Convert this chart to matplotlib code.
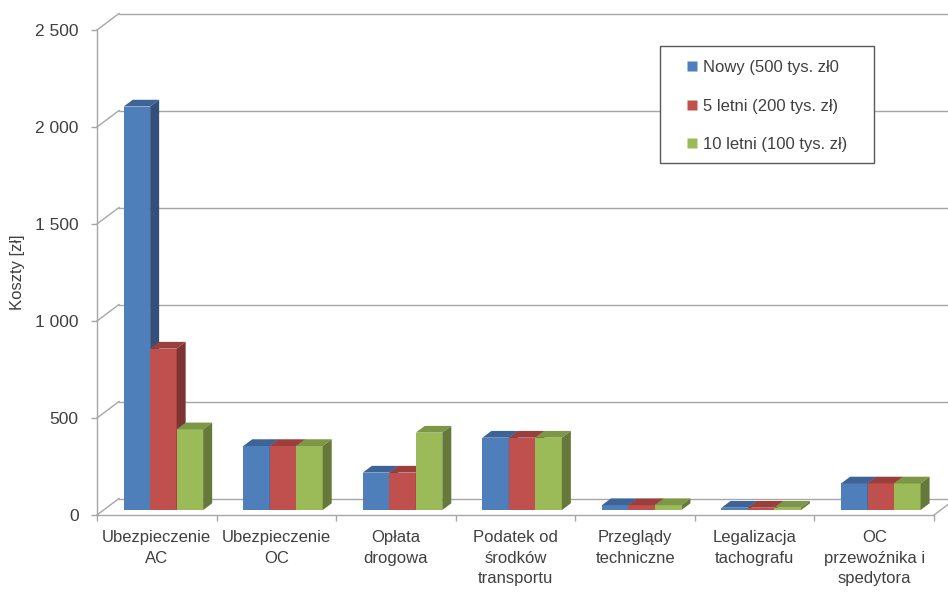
import matplotlib
matplotlib.use("Agg")
import matplotlib.pyplot as plt
from matplotlib.patches import Polygon, Rectangle
from matplotlib.lines import Line2D
from matplotlib import font_manager

categories = ["Ubezpieczenie\nAC", "Ubezpieczenie\nOC", "Opłata\ndrogowa",
              "Podatek od\nśrodków\ntransportu", "Przeglądy\ntechniczne",
              "Legalizacja\ntachografu", "OC\nprzewoźnika i\nspedytora"]
series_names = ["Nowy (500 tys. zł0", "5 letni (200 tys. zł)", "10 letni (100 tys. zł)"]
nowy = [2080, 330, 193, 373, 25, 12, 137]
letni5 = [832, 330, 193, 373, 25, 12, 137]
letni10 = [416, 330, 399, 373, 25, 12, 137]
yticks = [0, 500, 1000, 1500, 2000, 2500]
ytick_labels = ["0", "500", "1 000", "1 500", "2 000", "2 500"]
ylabel = "Koszty [zł]"

series = [nowy, letni5, letni10]
front_colors = ["#4F7FBA", "#C0504D", "#9BBB59"]
top_colors = ["#3E6497", "#9B3F3C", "#7C9745"]
side_colors = ["#34507A", "#7D3331", "#66793A"]

names = {f.name for f in font_manager.fontManager.ttflist}
narrow = "Liberation Sans Narrow" in names
fam = "Liberation Sans Narrow" if narrow else "Liberation Sans"
plt.rcParams["font.family"] = [fam, "DejaVu Sans"]
TXT = "#404040"
GRID = "#A6A6A6"
FS = 13.5 if narrow else 12

W, H = 948, 596
fig = plt.figure(figsize=(W / 100, H / 100), dpi=100)
fig.patch.set_facecolor("white")
ax = fig.add_axes([97 / W, (H - 515) / H, 837 / W, 485 / H])
ax.set_xlim(0, len(categories))
ax.set_ylim(0, 2500)
ax.set_facecolor("none")

# depth offsets (data units)
DXB, DYB = 0.184, 85.0          # back wall
FX, FY = 0.3 * DXB, 0.3 * DYB   # bar front face depth
SX, SY = 0.41 * DXB, 0.41 * DYB # bar depth
bw = 0.2216

# walls / gridlines
n = len(categories)
for v in yticks:
    ax.plot([0, DXB], [v, v + DYB], color=GRID, lw=1.0, clip_on=False, zorder=1)
    ax.plot([DXB, n + DXB], [v + DYB, v + DYB], color=GRID, lw=1.0, clip_on=False, zorder=1)
ax.plot([n, n + DXB], [0, DYB], color=GRID, lw=1.0, clip_on=False, zorder=1)

# bars
for i in range(n):
    for j, vals in enumerate(series):
        v = vals[i]
        left = i + 0.5 - 1.5 * bw + j * bw + FX
        z = 3 + i * 0.1 + j * 0.01
        ax.bar(left, v, width=bw, bottom=FY, align="edge", color=front_colors[j],
               linewidth=0, zorder=z, clip_on=False)
        top = Polygon([(left, FY + v), (left + bw, FY + v), (left + bw + SX, FY + v + SY),
                       (left + SX, FY + v + SY)], closed=True, facecolor=top_colors[j],
                      edgecolor="none", zorder=z, clip_on=False)
        side = Polygon([(left + bw, FY), (left + bw + SX, FY + SY),
                        (left + bw + SX, FY + v + SY), (left + bw, FY + v)], closed=True,
                       facecolor=side_colors[j], edgecolor="none", zorder=z, clip_on=False)
        ax.add_patch(top)
        ax.add_patch(side)

# axes
for s in ["top", "right"]:
    ax.spines[s].set_visible(False)
for s in ["left", "bottom"]:
    ax.spines[s].set_color(GRID)
    ax.spines[s].set_linewidth(1.0)
    ax.spines[s].set_zorder(2)
ax.set_yticks(yticks)
ax.set_yticklabels(ytick_labels)
ax.tick_params(axis="y", direction="out", length=4.3, width=1.0, color=GRID,
               labelsize=FS + 0.5, labelcolor=TXT, pad=9)
ax.set_xticks([i + 0.5 for i in range(n)])
ax.set_xticklabels(categories, linespacing=1.45)
ax.set_xticks(list(range(n + 1)), minor=True)
ax.tick_params(axis="x", which="major", length=0, labelsize=FS, labelcolor=TXT, pad=11)
ax.tick_params(axis="x", which="minor", direction="out", length=4, width=1.0, color=GRID)

fig.text(18 / W, 1 - 272 / H, ylabel, rotation=90, ha="center", va="center",
         fontsize=FS, color=TXT)

# legend
frame = Rectangle((660 / W, 1 - 163 / H), 214 / W, 117 / H, transform=fig.transFigure,
                  facecolor="white", edgecolor="#595959", linewidth=1.0, zorder=10)
fig.patches.append(frame)
handles = [Line2D([], [], marker="s", linestyle="none", markersize=7.4,
                  markerfacecolor=c, markeredgecolor="none") for c in front_colors]
leg = fig.legend(handles, series_names, loc="upper left",
                 bbox_to_anchor=(684 / W, 1 - 60 / H), frameon=False,
                 borderpad=0, borderaxespad=0, handlelength=0.9, handletextpad=0.25,
                 labelspacing=1.42, fontsize=FS, labelcolor=TXT)
leg.set_zorder(11)

fig.savefig("out.png", dpi=100, facecolor="white")
